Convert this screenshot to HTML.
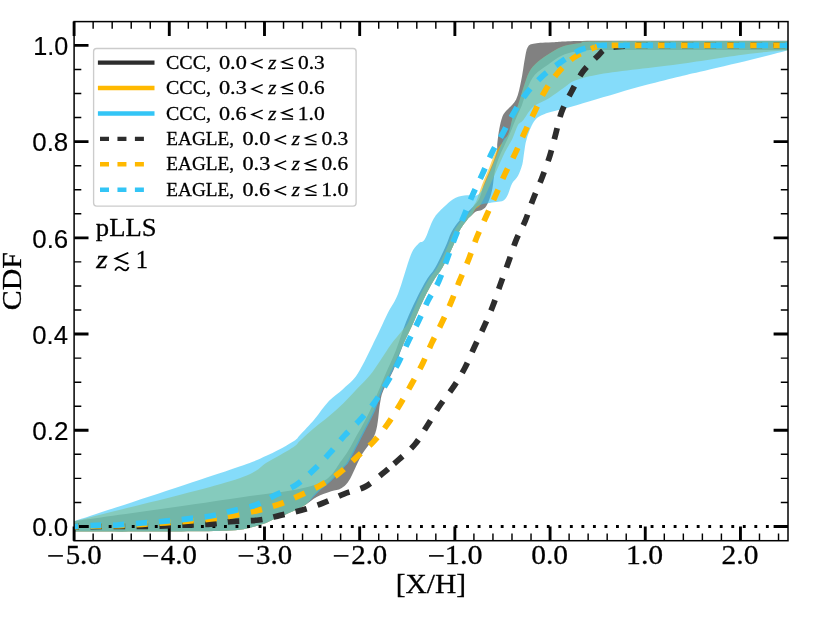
<!DOCTYPE html>
<html><head><meta charset="utf-8"><title>CDF</title>
<style>html,body{margin:0;padding:0;background:#fff}svg{display:block;will-change:transform}.sf{font-family:"Liberation Serif",serif;stroke:#000;stroke-width:.28px}.ss{font-family:"Liberation Sans",sans-serif;stroke:#000;stroke-width:.15px}</style></head><body>
<svg width="830" height="623" viewBox="0 0 830 623">
<rect width="830" height="623" fill="#fff"/>
<defs><clipPath id="ax"><rect x="74.1" y="21.6" width="713.9" height="519.1"/></clipPath></defs>
<g clip-path="url(#ax)">
<path d="M74.2,521.2 C100.2,517.5 189.8,505.1 230.0,499.0 C270.2,492.9 296.7,491.2 315.3,484.7 C333.9,478.2 334.8,468.4 341.9,459.9 C349.0,451.4 353.2,441.6 357.8,433.6 C362.4,425.6 365.9,419.1 369.4,411.9 C372.9,404.7 376.0,396.7 378.8,390.2 C381.6,383.7 383.1,379.7 386.0,373.0 C388.9,366.3 392.7,358.5 396.0,350.0 C399.3,341.5 402.6,330.4 406.0,321.9 C409.4,313.4 413.1,305.8 416.5,298.8 C419.9,291.8 423.4,285.1 426.5,280.0 C429.6,274.9 431.9,273.5 435.0,268.1 C438.1,262.7 442.2,253.8 445.0,247.8 C447.8,241.8 449.1,236.5 451.5,231.9 C453.9,227.3 456.8,223.8 459.5,220.4 C462.2,217.0 464.8,215.1 468.0,211.7 C471.2,208.3 476.0,204.3 478.6,199.9 C481.2,195.5 481.6,190.5 483.6,185.2 C485.7,179.8 488.7,173.4 490.9,167.8 C493.1,162.2 495.5,156.0 496.6,151.9 C497.7,147.8 496.9,147.2 497.3,143.3 C497.8,139.5 498.5,133.2 499.3,128.8 C500.1,124.5 501.1,120.2 502.2,117.2 C503.3,114.2 503.7,114.0 506.0,111.0 C508.3,108.0 513.6,104.5 516.1,99.4 C518.6,94.3 519.8,87.3 521.2,80.6 C522.7,73.8 523.7,64.5 524.8,58.9 C525.9,53.4 526.2,49.8 527.7,47.3 C529.2,44.8 529.4,44.5 533.5,43.7 C537.6,42.9 541.2,42.8 552.3,42.3 C563.4,41.8 560.7,41.0 600.0,40.8 C639.3,40.5 756.8,40.8 788.1,40.8 L788.1,50.0 C756.8,50.0 633.3,50.0 600.0,50.0 C566.7,50.0 592.7,49.9 588.4,50.2 C584.1,50.5 578.6,50.7 574.0,51.7 C569.4,52.7 565.3,53.8 561.0,56.0 C556.7,58.2 552.4,61.6 548.0,64.7 C543.6,67.8 538.3,71.0 534.9,74.8 C531.5,78.6 529.9,82.7 527.7,87.8 C525.5,92.9 524.0,99.8 521.9,105.2 C519.8,110.6 517.7,114.4 515.4,119.9 C513.1,125.4 510.6,132.2 508.0,138.0 C505.4,143.8 502.2,149.7 500.0,155.0 C497.8,160.3 496.2,164.5 495.0,170.0 C493.8,175.5 493.4,183.2 492.5,188.0 C491.6,192.8 490.6,195.9 489.5,199.0 C488.4,202.1 487.3,204.7 486.0,206.5 C484.7,208.3 483.5,209.2 481.8,210.0 C480.1,210.8 477.7,210.5 476.0,211.4 C474.3,212.3 473.2,213.8 471.7,215.3 C470.1,216.8 468.8,217.6 466.7,220.4 C464.6,223.2 461.2,227.3 458.8,231.9 C456.4,236.5 455.1,241.8 452.3,247.8 C449.5,253.8 445.2,262.7 442.2,268.1 C439.1,273.5 437.1,274.9 434.0,280.0 C430.9,285.1 427.3,291.8 423.9,298.8 C420.5,305.8 417.1,314.4 413.7,321.9 C410.3,329.4 407.0,335.6 403.6,343.6 C400.2,351.6 396.9,362.2 393.5,369.9 C390.1,377.6 385.8,384.4 383.5,390.0 C381.2,395.6 381.4,396.3 380.0,403.6 C378.6,410.9 378.4,424.8 375.2,433.6 C372.0,442.5 364.9,449.1 360.7,456.7 C356.5,464.2 353.2,473.6 350.0,478.9 C346.8,484.2 344.4,486.2 341.3,488.3 C338.2,490.4 335.3,489.8 331.2,491.2 C327.1,492.6 321.0,494.7 316.7,497.0 C312.4,499.3 310.0,502.1 305.2,504.9 C300.4,507.7 293.1,511.2 287.8,513.6 C282.5,516.0 278.2,517.5 273.4,519.4 C268.6,521.3 266.1,523.3 258.9,525.2 C251.7,527.1 248.2,529.5 230.0,530.6 C211.8,531.7 176.0,531.4 150.0,531.6 C124.0,531.8 86.8,531.6 74.2,531.6 Z" fill="#2d2d2d" fill-opacity="0.6"/>
<path d="M74.2,521.2 C100.2,514.6 197.6,491.3 230.0,481.3 C262.4,471.3 258.0,467.1 268.6,461.4 C279.2,455.7 288.4,450.4 293.6,447.0 C298.8,443.6 296.5,444.0 300.0,440.8 C303.5,437.6 309.7,431.9 314.5,427.8 C319.3,423.7 324.1,420.4 328.9,416.3 C333.7,412.2 338.6,408.0 343.4,403.3 C348.2,398.6 353.0,393.3 357.8,388.1 C362.6,382.9 366.8,379.4 372.3,372.2 C377.8,365.0 385.6,352.0 390.6,345.1 C395.6,338.2 399.2,334.5 402.2,330.6 C405.2,326.7 405.8,327.2 408.5,321.9 C411.2,316.6 415.2,305.8 418.5,298.8 C421.8,291.8 425.4,285.1 428.5,280.0 C431.6,274.9 433.9,273.5 437.0,268.1 C440.1,262.7 444.2,253.8 447.0,247.8 C449.8,241.8 451.1,236.5 453.5,231.9 C455.9,227.3 458.8,223.8 461.5,220.4 C464.2,217.0 467.9,214.3 470.0,211.7 C472.1,209.1 472.8,207.0 474.0,205.0 C475.2,203.0 475.7,202.8 477.0,199.5 C478.3,196.2 479.9,190.5 481.9,185.2 C483.9,179.9 486.9,173.4 489.2,167.8 C491.5,162.2 492.6,157.4 495.7,151.9 C498.8,146.4 505.2,140.1 508.0,134.6 C510.8,129.1 511.1,122.8 512.3,118.7 C513.5,114.6 514.3,112.0 515.2,110.0 C516.1,108.0 516.2,110.3 517.6,106.6 C519.0,102.9 521.5,93.6 523.4,87.8 C525.3,82.0 526.8,76.2 529.2,71.9 C531.6,67.6 533.9,65.2 537.8,61.8 C541.6,58.4 547.9,54.4 552.3,51.7 C556.6,49.1 559.1,47.4 563.9,45.9 C568.7,44.4 575.2,43.7 581.2,43.0 C587.2,42.3 565.5,41.8 600.0,41.5 C634.5,41.2 756.8,41.1 788.1,41.0 L788.1,50.3 C781.8,50.9 768.0,51.4 750.0,53.7 C732.0,56.0 699.6,61.3 680.0,64.0 C660.4,66.7 646.3,68.0 632.3,69.8 C618.3,71.6 605.7,73.1 596.1,74.9 C586.5,76.7 579.9,78.6 574.5,80.7 C569.1,82.8 568.1,84.9 563.9,87.8 C559.7,90.7 554.5,94.8 549.4,97.9 C544.3,101.0 537.8,102.9 533.5,106.6 C529.2,110.3 526.0,116.8 523.4,119.9 C520.8,123.0 519.9,121.8 518.0,125.0 C516.1,128.2 514.5,134.4 512.3,138.9 C510.1,143.4 507.4,147.1 505.0,151.9 C502.6,156.7 500.3,162.2 497.8,167.8 C495.3,173.4 492.8,179.2 490.0,185.2 C487.2,191.2 483.4,200.0 481.0,204.0 C478.6,208.0 477.1,207.2 475.5,209.0 C473.9,210.8 473.2,213.2 471.7,215.1 C470.2,217.0 468.8,217.6 466.7,220.4 C464.6,223.2 461.2,227.3 458.8,231.9 C456.4,236.5 455.1,241.8 452.3,247.8 C449.5,253.8 445.2,262.7 442.2,268.1 C439.1,273.5 437.1,274.9 434.0,280.0 C430.9,285.1 427.3,291.8 423.9,298.8 C420.5,305.8 417.1,314.4 413.7,321.9 C410.3,329.4 407.3,335.6 403.6,343.6 C399.9,351.6 395.2,362.4 391.5,369.9 C387.8,377.4 384.6,382.0 381.6,388.8 C378.6,395.6 376.9,403.0 373.7,410.5 C370.4,418.0 366.3,425.4 362.1,433.6 C357.9,441.8 351.6,454.3 348.4,459.9 C345.2,465.5 345.8,463.8 342.7,467.3 C339.6,470.8 334.3,476.8 329.7,481.1 C325.1,485.5 319.3,489.4 315.2,493.4 C311.1,497.4 309.8,501.5 305.2,504.9 C300.6,508.3 293.1,511.2 287.8,513.6 C282.5,516.0 278.2,517.5 273.4,519.4 C268.6,521.3 266.1,523.3 258.9,525.2 C251.7,527.1 248.2,529.5 230.0,530.6 C211.8,531.7 176.0,531.4 150.0,531.6 C124.0,531.8 86.8,531.6 74.2,531.6 Z" fill="#ffb900" fill-opacity="0.6"/>
<path d="M74.2,521.2 C100.2,512.6 197.6,480.8 230.0,469.7 C262.4,458.6 258.0,459.4 268.6,454.7 C279.2,449.9 288.4,444.5 293.6,441.2 C298.8,437.9 296.5,438.7 300.0,435.0 C303.5,431.3 309.7,424.8 314.5,419.2 C319.3,413.6 324.1,406.2 328.9,401.1 C333.7,396.0 338.6,393.4 343.4,388.8 C348.2,384.2 352.4,382.1 357.8,373.6 C363.2,365.1 371.1,347.9 376.1,337.8 C381.1,327.8 384.1,320.6 387.7,313.3 C391.3,306.0 394.1,303.7 398.0,294.0 C401.9,284.3 407.4,263.5 410.8,255.1 C414.2,246.7 416.3,246.2 418.6,243.5 C420.9,240.8 422.3,243.3 424.8,239.2 C427.3,235.1 430.4,224.2 433.5,218.9 C436.6,213.6 440.0,210.8 443.6,207.3 C447.2,203.8 451.4,200.0 455.2,198.0 C459.0,196.0 463.6,195.6 466.7,195.3 C469.8,195.0 471.9,196.3 474.0,196.0 C476.1,195.7 477.9,195.2 479.6,193.4 C481.3,191.6 482.2,189.5 484.2,185.2 C486.2,180.9 489.4,173.4 491.7,167.8 C494.0,162.2 496.2,156.5 498.2,151.9 C500.2,147.3 501.9,142.9 503.5,140.0 C505.1,137.1 506.5,138.2 508.0,134.6 C509.5,131.0 511.1,122.8 512.3,118.7 C513.5,114.6 514.3,112.0 515.2,110.0 C516.1,108.0 516.2,110.3 517.6,106.6 C519.0,102.9 521.5,93.6 523.4,87.8 C525.3,82.0 526.8,76.2 529.2,71.9 C531.6,67.6 533.9,65.2 537.8,61.8 C541.6,58.4 547.9,54.4 552.3,51.7 C556.6,49.1 559.1,47.4 563.9,45.9 C568.7,44.4 575.2,43.7 581.2,43.0 C587.2,42.3 565.5,41.8 600.0,41.5 C634.5,41.2 756.8,41.1 788.1,41.0 L788.1,50.3 C781.8,51.9 764.7,56.4 750.0,60.0 C735.3,63.6 711.7,69.0 700.0,71.8 C688.3,74.5 688.9,74.3 680.0,76.5 C671.1,78.7 657.1,82.0 646.7,84.8 C636.3,87.5 627.4,90.2 617.8,93.0 C608.2,95.8 597.4,99.0 588.9,101.5 C580.4,104.0 574.2,106.0 566.7,108.1 C559.2,110.2 549.6,112.0 544.1,114.3 C538.6,116.5 536.9,117.5 534.0,121.6 C531.1,125.7 528.3,133.8 526.7,138.9 C525.1,144.0 524.9,147.7 524.2,152.0 C523.5,156.3 523.3,160.5 522.3,164.5 C521.2,168.5 519.6,172.9 517.9,176.0 C516.2,179.1 513.9,180.2 512.2,183.3 C510.5,186.4 509.2,191.9 507.8,194.8 C506.4,197.7 505.4,199.4 503.5,200.6 C501.6,201.8 498.9,201.6 496.3,202.0 C493.7,202.4 490.2,202.8 487.6,203.3 C485.0,203.8 482.5,203.9 480.5,204.8 C478.5,205.7 477.0,206.8 475.5,208.5 C474.0,210.2 473.2,213.1 471.7,215.1 C470.2,217.1 468.8,217.6 466.7,220.4 C464.6,223.2 461.2,227.3 458.8,231.9 C456.4,236.5 455.1,241.8 452.3,247.8 C449.5,253.8 445.2,262.7 442.2,268.1 C439.1,273.5 437.1,274.9 434.0,280.0 C430.9,285.1 427.3,291.8 423.9,298.8 C420.5,305.8 417.1,314.4 413.7,321.9 C410.3,329.4 407.1,335.6 403.6,343.6 C400.2,351.6 396.4,362.4 393.0,369.9 C389.6,377.4 386.1,382.0 383.1,388.8 C380.1,395.6 378.4,403.0 375.2,410.5 C371.9,418.0 367.8,425.4 363.6,433.6 C359.4,441.8 353.1,454.3 349.9,459.9 C346.7,465.5 347.3,463.8 344.2,467.3 C341.1,470.8 335.8,476.8 331.2,481.1 C326.6,485.5 321.0,489.4 316.7,493.4 C312.4,497.4 310.0,501.5 305.2,504.9 C300.4,508.3 293.1,511.2 287.8,513.6 C282.5,516.0 278.2,517.5 273.4,519.4 C268.6,521.3 266.1,523.3 258.9,525.2 C251.7,527.1 248.2,529.5 230.0,530.6 C211.8,531.7 176.0,531.4 150.0,531.6 C124.0,531.8 86.8,531.6 74.2,531.6 Z" fill="#33c5f6" fill-opacity="0.6"/>
</g>
<g stroke="#000" fill="none"><path d="M74.10,540.8 v-14.4 M74.10,21.6 v14.4" stroke-width="2.88"/><path d="M169.29,540.8 v-14.4 M169.29,21.6 v14.4" stroke-width="2.88"/><path d="M264.49,540.8 v-14.4 M264.49,21.6 v14.4" stroke-width="2.88"/><path d="M359.68,540.8 v-14.4 M359.68,21.6 v14.4" stroke-width="2.88"/><path d="M454.87,540.8 v-14.4 M454.87,21.6 v14.4" stroke-width="2.88"/><path d="M550.07,540.8 v-14.4 M550.07,21.6 v14.4" stroke-width="2.88"/><path d="M645.26,540.8 v-14.4 M645.26,21.6 v14.4" stroke-width="2.88"/><path d="M740.45,540.8 v-14.4 M740.45,21.6 v14.4" stroke-width="2.88"/><path d="M74.1,526.50 h14.4 M788.0,526.50 h-14.4" stroke-width="2.88"/><path d="M74.1,430.28 h14.4 M788.0,430.28 h-14.4" stroke-width="2.88"/><path d="M74.1,334.06 h14.4 M788.0,334.06 h-14.4" stroke-width="2.88"/><path d="M74.1,237.84 h14.4 M788.0,237.84 h-14.4" stroke-width="2.88"/><path d="M74.1,141.62 h14.4 M788.0,141.62 h-14.4" stroke-width="2.88"/><path d="M74.1,45.40 h14.4 M788.0,45.40 h-14.4" stroke-width="2.88"/><path d="M93.14,540.8 v-7.2 M93.14,21.6 v7.2 M112.18,540.8 v-7.2 M112.18,21.6 v7.2 M131.22,540.8 v-7.2 M131.22,21.6 v7.2 M150.25,540.8 v-7.2 M150.25,21.6 v7.2 M188.33,540.8 v-7.2 M188.33,21.6 v7.2 M207.37,540.8 v-7.2 M207.37,21.6 v7.2 M226.41,540.8 v-7.2 M226.41,21.6 v7.2 M245.45,540.8 v-7.2 M245.45,21.6 v7.2 M283.53,540.8 v-7.2 M283.53,21.6 v7.2 M302.56,540.8 v-7.2 M302.56,21.6 v7.2 M321.60,540.8 v-7.2 M321.60,21.6 v7.2 M340.64,540.8 v-7.2 M340.64,21.6 v7.2 M378.72,540.8 v-7.2 M378.72,21.6 v7.2 M397.76,540.8 v-7.2 M397.76,21.6 v7.2 M416.80,540.8 v-7.2 M416.80,21.6 v7.2 M435.83,540.8 v-7.2 M435.83,21.6 v7.2 M473.91,540.8 v-7.2 M473.91,21.6 v7.2 M492.95,540.8 v-7.2 M492.95,21.6 v7.2 M511.99,540.8 v-7.2 M511.99,21.6 v7.2 M531.03,540.8 v-7.2 M531.03,21.6 v7.2 M569.11,540.8 v-7.2 M569.11,21.6 v7.2 M588.14,540.8 v-7.2 M588.14,21.6 v7.2 M607.18,540.8 v-7.2 M607.18,21.6 v7.2 M626.22,540.8 v-7.2 M626.22,21.6 v7.2 M664.30,540.8 v-7.2 M664.30,21.6 v7.2 M683.34,540.8 v-7.2 M683.34,21.6 v7.2 M702.38,540.8 v-7.2 M702.38,21.6 v7.2 M721.41,540.8 v-7.2 M721.41,21.6 v7.2 M759.49,540.8 v-7.2 M759.49,21.6 v7.2 M778.53,540.8 v-7.2 M778.53,21.6 v7.2 M74.1,502.44 h7.2 M788.0,502.44 h-7.2 M74.1,478.39 h7.2 M788.0,478.39 h-7.2 M74.1,454.33 h7.2 M788.0,454.33 h-7.2 M74.1,406.23 h7.2 M788.0,406.23 h-7.2 M74.1,382.17 h7.2 M788.0,382.17 h-7.2 M74.1,358.12 h7.2 M788.0,358.12 h-7.2 M74.1,310.00 h7.2 M788.0,310.00 h-7.2 M74.1,285.95 h7.2 M788.0,285.95 h-7.2 M74.1,261.89 h7.2 M788.0,261.89 h-7.2 M74.1,213.78 h7.2 M788.0,213.78 h-7.2 M74.1,189.73 h7.2 M788.0,189.73 h-7.2 M74.1,165.67 h7.2 M788.0,165.67 h-7.2 M74.1,117.56 h7.2 M788.0,117.56 h-7.2 M74.1,93.51 h7.2 M788.0,93.51 h-7.2 M74.1,69.45 h7.2 M788.0,69.45 h-7.2 " stroke-width="1.44"/></g>
<g clip-path="url(#ax)">
<path d="M74.1,526.5 H788.0" stroke="#000" stroke-width="2.88" stroke-dasharray="2.88 8.65" stroke-dashoffset="0" fill="none"/>
<path id="dk0" d="M74.2,526.5 C86.8,526.5 131.0,526.5 150.0,526.3 C169.0,526.0 177.9,525.4 188.0,525.0 C198.1,524.6 203.7,524.7 210.7,524.1 C217.7,523.5 222.0,522.3 230.0,521.6 C238.0,520.9 250.5,521.0 258.9,520.0 C267.2,519.0 273.0,517.0 280.1,515.4 C287.2,513.8 294.2,512.2 301.3,510.2 C308.4,508.2 315.3,506.0 322.5,503.3 C329.7,500.6 337.2,496.7 344.3,493.9 C351.4,491.1 358.9,490.0 365.3,486.6 C371.7,483.2 378.3,477.0 382.6,473.6 C386.9,470.2 388.2,468.8 391.0,466.4" stroke="#2d2d2d" stroke-width="5.76" stroke-dasharray="11.460 11.460" stroke-dashoffset="6.53" fill="none"/>
<path id="dk1" d="M391.0,466.4 C393.8,464.0 395.3,462.9 399.3,459.2 C403.3,455.5 410.5,449.7 415.2,444.0 C419.9,438.3 423.4,431.6 427.5,425.2 C431.6,418.8 435.5,411.8 439.8,405.5 C444.1,399.2 449.1,393.4 453.3,387.2 C457.5,380.9 461.3,374.8 464.8,368.0 C468.3,361.2 471.3,353.6 474.5,346.7 C477.7,339.8 481.1,333.2 484.1,326.4 C487.2,319.6 490.1,313.2 492.8,306.1 C495.5,299.0 497.9,291.2 500.5,284.0 C503.1,276.8 505.6,270.0 508.2,262.8 C510.8,255.6 513.1,247.6 515.9,240.6 C518.7,233.6 522.3,227.7 525.2,220.8 C528.1,213.9 530.3,206.3 533.1,199.2 C535.9,192.1 539.0,185.4 541.8,178.2 C544.6,171.0 547.5,163.2 549.8,155.8 C552.1,148.4 553.7,141.2 555.7,133.9 C557.7,126.6 559.1,118.8 561.7,111.7 C564.4,104.6 568.0,98.2 571.6,91.5 C575.2,84.8 578.7,77.3 583.1,71.3 C587.5,65.3 594.9,58.9 598.3,55.4 C601.7,51.9 601.6,51.6 603.4,50.3 C605.2,49.0 606.6,48.2 609.0,47.6 C611.4,47.0 614.5,47.0 618.0,46.7 C621.5,46.4 626.3,46.0 630.0,45.8 C633.7,45.6 628.3,45.5 640.0,45.4 C651.7,45.3 675.3,45.4 700.0,45.4 C724.7,45.4 773.4,45.4 788.1,45.4" stroke="#2d2d2d" stroke-width="5.76" stroke-dasharray="11.430 11.430" stroke-dashoffset="18.82" fill="none"/>
<path id="dy0" d="M74.2,526.5 C77.8,526.4 88.5,526.1 96.0,525.9 C103.5,525.7 111.5,525.8 119.2,525.5 C126.9,525.2 134.6,524.8 142.3,524.3 C150.0,523.8 157.8,523.3 165.4,522.8 C173.0,522.3 180.4,521.8 188.0,521.2 C195.6,520.6 203.7,519.8 210.7,519.0 C217.7,518.2 222.3,517.6 230.0,516.2 C237.7,514.8 248.8,512.6 257.0,510.6 C265.2,508.6 272.0,506.8 279.2,504.2 C286.4,501.6 293.5,498.4 300.4,495.2 C307.3,492.0 314.0,489.0 320.6,485.2 C327.2,481.4 333.8,477.4 339.9,472.6 C346.0,467.8 351.6,461.8 357.2,456.6 C362.8,451.4 368.6,447.0 373.6,441.6 C378.7,436.2 383.1,430.4 387.5,424.2 C391.9,418.0 395.8,411.3 399.8,404.7 C403.8,398.1 407.5,391.3 411.3,384.5 C415.1,377.7 419.0,370.8 422.4,363.9 C425.8,357.0 428.6,349.8 431.8,342.9 C435.1,336.0 438.6,329.5 441.9,322.6 C445.1,315.7 448.4,308.6 451.3,301.7 C454.2,294.8 456.4,288.6 459.3,281.4 C462.2,274.2 466.0,266.1 468.9,258.7 C471.8,251.3 474.0,244.1 476.9,237.0 C479.8,229.9 483.2,223.0 486.3,216.0 C489.4,209.0 492.6,202.2 495.7,195.1 C498.8,188.0 501.9,180.5 505.1,173.6 C508.4,166.7 512.0,160.3 515.2,153.4 C518.5,146.5 521.5,139.2 524.6,132.4 C527.7,125.7 530.6,119.9 534.0,112.9 C537.4,106.0 541.1,97.4 545.1,90.7 C549.1,84.0 553.3,78.1 558.1,72.6 C562.9,67.1 568.2,61.6 574.0,57.5 C579.8,53.4 588.5,50.0 592.8,48.1 C597.1,46.2 597.1,46.5 600.0,46.0 C602.9,45.5 593.3,45.5 610.0,45.4 C626.7,45.3 670.3,45.4 700.0,45.4 C729.7,45.4 773.4,45.4 788.1,45.4" stroke="#ffb900" stroke-width="5.76" stroke-dasharray="11.520 11.520" stroke-dashoffset="7.04" fill="none"/>
<path id="db0" d="M74.2,526.3 C77.8,526.1 88.5,525.6 96.0,525.4 C103.5,525.1 111.5,525.2 119.2,524.8 C126.9,524.4 134.6,523.6 142.3,523.0 C150.0,522.4 157.8,521.9 165.4,521.2 C173.0,520.5 180.4,519.7 188.0,518.8 C195.6,517.9 203.7,517.2 210.7,516.0 C217.7,514.8 222.6,513.3 230.0,511.5 C237.4,509.7 247.4,508.0 255.0,505.2 C262.6,502.4 268.8,498.2 275.7,494.8 C282.6,491.4 290.1,488.8 296.5,484.6 C302.9,480.4 308.4,474.9 313.9,469.7 C319.4,464.5 324.6,458.9 329.7,453.2 C334.8,447.5 339.6,440.9 344.7,435.4 C349.8,429.8 355.0,425.4 360.0,419.9 C365.0,414.4 370.1,408.6 374.5,402.5 C378.9,396.4 382.8,389.4 386.7,383.0 C390.6,376.6 394.3,370.7 397.8,363.9 C401.3,357.1 404.5,349.2 407.9,342.2 C411.3,335.2 414.7,328.9 418.1,321.9 C421.5,314.9 424.8,306.8 428.2,300.2 C431.6,293.6 435.1,289.1 438.3,282.2 C441.5,275.3 444.4,266.2 447.2,258.7 C450.0,251.2 452.4,244.1 455.2,237.0 C458.0,229.9 461.0,223.0 463.9,216.0 C466.8,209.0 469.4,202.2 472.5,195.1 C475.6,188.0 479.4,180.7 482.6,173.6 C485.9,166.5 488.6,159.3 492.0,152.6 C495.4,145.8 499.3,139.7 502.9,133.1 C506.5,126.5 509.8,119.5 513.7,112.9 C517.6,106.3 521.5,99.7 526.3,93.6 C531.0,87.5 536.6,81.5 542.2,76.3 C547.9,71.1 553.9,66.8 560.2,62.5 C566.5,58.1 573.8,52.9 579.8,50.2 C585.8,47.5 591.5,47.2 596.0,46.4 C600.5,45.6 589.7,45.6 607.0,45.4 C624.3,45.2 669.8,45.4 700.0,45.4 C730.2,45.4 773.4,45.4 788.1,45.4" stroke="#33c5f6" stroke-width="5.76" stroke-dasharray="11.490 11.490" stroke-dashoffset="7.11" fill="none"/>
</g>
<rect x="74.1" y="21.6" width="713.9" height="519.1" fill="none" stroke="#000" stroke-width="1.5"/>
<path d="M48.2,555.9 H62.9" stroke="#000" stroke-width="1.6"/>
<text transform="translate(65.64,563.50) scale(1.0901,1)" font-size="26.50" class="sf">5.0</text>
<path d="M143.4,555.9 H158.1" stroke="#000" stroke-width="1.6"/>
<text transform="translate(160.84,563.50) scale(1.0901,1)" font-size="26.50" class="sf">4.0</text>
<path d="M238.6,555.9 H253.3" stroke="#000" stroke-width="1.6"/>
<text transform="translate(256.03,563.50) scale(1.0901,1)" font-size="26.50" class="sf">3.0</text>
<path d="M333.8,555.9 H348.5" stroke="#000" stroke-width="1.6"/>
<text transform="translate(351.22,563.50) scale(1.0901,1)" font-size="26.50" class="sf">2.0</text>
<path d="M429.0,555.9 H443.7" stroke="#000" stroke-width="1.6"/>
<text transform="translate(444.86,563.50) scale(1.1388,1)" font-size="26.50" class="sf">1.0</text>
<text transform="translate(531.19,563.50) scale(1.1127,1)" font-size="26.50" class="sf">0.0</text>
<text transform="translate(626.08,563.50) scale(1.1220,1)" font-size="26.50" class="sf">1.0</text>
<text transform="translate(721.57,563.50) scale(1.1127,1)" font-size="26.50" class="sf">2.0</text>
<text transform="translate(32.26,536.30) scale(1.0393,1)" font-size="24.90" class="ss">0.0</text>
<text transform="translate(32.26,440.08) scale(1.0473,1)" font-size="24.90" class="ss">0.2</text>
<text transform="translate(32.27,343.86) scale(1.0314,1)" font-size="24.90" class="ss">0.4</text>
<text transform="translate(32.26,247.64) scale(1.0393,1)" font-size="24.90" class="ss">0.6</text>
<text transform="translate(32.26,151.42) scale(1.0393,1)" font-size="24.90" class="ss">0.8</text>
<text transform="translate(33.18,55.20) scale(1.0119,1)" font-size="24.90" class="ss">1.0</text>
<text transform="translate(395.73,592.80) scale(1.1094,1)" font-size="26.60" class="sf">[X/H]</text>
<text transform="translate(20.7,310.30) rotate(-90) scale(1.1071,1)" font-size="27.0" class="sf">CDF</text>
<text transform="translate(95.87,236.10) scale(1.0917,1)" font-size="24.40" class="sf">pLLS</text>
<text transform="translate(96.19,267.50) scale(1.1600,1)" font-size="25.20" class="sf" font-style="italic">z</text>
<path d="M128.3,252.7 L115.5,258.4 L128.3,263.9 M115.2,270.6 C116.6,266.6 119.6,266.4 121.8,268.7 C124,271 127,271.6 128.6,267.1" stroke="#000" stroke-width="1.75" fill="none"/>
<text transform="translate(135.79,267.50) scale(0.9988,1)" font-size="24.60" class="sf">1</text>
<rect x="93.6" y="48.5" width="262.5" height="157.6" rx="3" ry="3" fill="#fff" fill-opacity="0.8" stroke="#ccc" stroke-width="1.35"/>
<path d="M97.9,62.65 H154.5" stroke="#2d2d2d" stroke-width="4.4" fill="none"/>
<text transform="translate(166.00,68.85) scale(1.0309,1)" font-size="19.40" class="sf">CCC,</text>
<text transform="translate(218.91,68.85) scale(1.1499,1)" font-size="19.40" class="sf">0.0</text>
<path d="M262.7,59.3 L252.0,63.7 L262.7,68.0" stroke="#000" stroke-width="1.45" fill="none"/>
<text transform="translate(268.21,68.85) scale(1.0838,1)" font-size="19.40" class="sf" font-style="italic">z</text>
<path d="M293.0,57.9 L282.0,61.9 L293.0,65.9 M282.0,68.2 H293.1" stroke="#000" stroke-width="1.45" fill="none"/>
<text transform="translate(297.94,68.85) scale(1.1058,1)" font-size="19.40" class="sf">0.3</text>
<path d="M97.9,88.06 H154.5" stroke="#ffb900" stroke-width="4.4" fill="none"/>
<text transform="translate(166.00,94.24) scale(1.0309,1)" font-size="19.40" class="sf">CCC,</text>
<text transform="translate(218.91,94.24) scale(1.1499,1)" font-size="19.40" class="sf">0.3</text>
<path d="M262.7,84.7 L252.0,89.1 L262.7,93.4" stroke="#000" stroke-width="1.45" fill="none"/>
<text transform="translate(268.21,94.24) scale(1.0838,1)" font-size="19.40" class="sf" font-style="italic">z</text>
<path d="M293.0,83.3 L282.0,87.3 L293.0,91.3 M282.0,93.6 H293.1" stroke="#000" stroke-width="1.45" fill="none"/>
<text transform="translate(297.95,94.24) scale(1.0965,1)" font-size="19.40" class="sf">0.6</text>
<path d="M97.9,113.47 H154.5" stroke="#33c5f6" stroke-width="4.4" fill="none"/>
<text transform="translate(166.00,119.63) scale(1.0309,1)" font-size="19.40" class="sf">CCC,</text>
<text transform="translate(218.92,119.63) scale(1.1401,1)" font-size="19.40" class="sf">0.6</text>
<path d="M262.7,110.1 L252.0,114.5 L262.7,118.8" stroke="#000" stroke-width="1.45" fill="none"/>
<text transform="translate(268.21,119.63) scale(1.0838,1)" font-size="19.40" class="sf" font-style="italic">z</text>
<path d="M293.0,108.7 L282.0,112.7 L293.0,116.7 M282.0,119.0 H293.1" stroke="#000" stroke-width="1.45" fill="none"/>
<text transform="translate(297.76,119.63) scale(1.1138,1)" font-size="19.40" class="sf">1.0</text>
<path d="M100,138.88 H143.9" stroke="#2d2d2d" stroke-width="4.4" stroke-dasharray="9 8.45" fill="none"/>
<text transform="translate(166.32,145.02) scale(0.9904,1)" font-size="19.40" class="sf">EAGLE,</text>
<text transform="translate(242.41,145.02) scale(1.1499,1)" font-size="19.40" class="sf">0.0</text>
<path d="M286.2,135.5 L275.5,139.9 L286.2,144.2" stroke="#000" stroke-width="1.45" fill="none"/>
<text transform="translate(291.71,145.02) scale(1.0838,1)" font-size="19.40" class="sf" font-style="italic">z</text>
<path d="M316.5,134.1 L305.5,138.1 L316.5,142.1 M305.5,144.4 H316.6" stroke="#000" stroke-width="1.45" fill="none"/>
<text transform="translate(321.44,145.02) scale(1.1058,1)" font-size="19.40" class="sf">0.3</text>
<path d="M100,164.29 H143.9" stroke="#ffb900" stroke-width="4.4" stroke-dasharray="9 8.45" fill="none"/>
<text transform="translate(166.32,170.41) scale(0.9904,1)" font-size="19.40" class="sf">EAGLE,</text>
<text transform="translate(242.41,170.41) scale(1.1499,1)" font-size="19.40" class="sf">0.3</text>
<path d="M286.2,160.9 L275.5,165.3 L286.2,169.6" stroke="#000" stroke-width="1.45" fill="none"/>
<text transform="translate(291.71,170.41) scale(1.0838,1)" font-size="19.40" class="sf" font-style="italic">z</text>
<path d="M316.5,159.5 L305.5,163.5 L316.5,167.5 M305.5,169.8 H316.6" stroke="#000" stroke-width="1.45" fill="none"/>
<text transform="translate(321.45,170.41) scale(1.0965,1)" font-size="19.40" class="sf">0.6</text>
<path d="M100,189.70 H143.9" stroke="#33c5f6" stroke-width="4.4" stroke-dasharray="9 8.45" fill="none"/>
<text transform="translate(166.32,195.80) scale(0.9904,1)" font-size="19.40" class="sf">EAGLE,</text>
<text transform="translate(242.42,195.80) scale(1.1401,1)" font-size="19.40" class="sf">0.6</text>
<path d="M286.2,186.3 L275.5,190.7 L286.2,195.0" stroke="#000" stroke-width="1.45" fill="none"/>
<text transform="translate(291.71,195.80) scale(1.0838,1)" font-size="19.40" class="sf" font-style="italic">z</text>
<path d="M316.5,184.9 L305.5,188.9 L316.5,192.9 M305.5,195.2 H316.6" stroke="#000" stroke-width="1.45" fill="none"/>
<text transform="translate(321.26,195.80) scale(1.1138,1)" font-size="19.40" class="sf">1.0</text>
</svg></body></html>
